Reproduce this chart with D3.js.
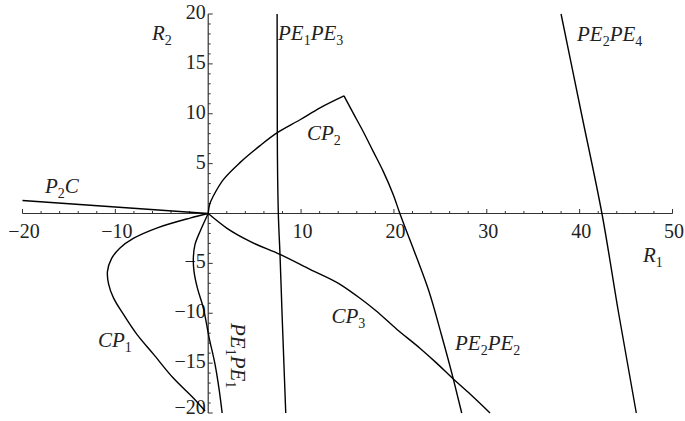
<!DOCTYPE html>
<html>
<head>
<meta charset="utf-8">
<script src="https://cdn.jsdelivr.net/npm/d3@7"></script>
<style>
  html, body { margin: 0; padding: 0; background: #fff; }
  svg { display: block; }
</style>
</head>
<body>
<svg id="chart" width="685" height="421"></svg>
<script>
// Axis extents and tick labels
const xDomain = [-20, 50];
const yDomain = [-20, 20];
const xMajorTicks = [-20, -10, 10, 20, 30, 40, 50];
const yMajorTicks = [-20, -15, -10, -5, 5, 10, 15, 20];

// Boundary curves in the (R1, R2) plane, [R1, R2] pairs
const p2c = [[-20, 1.3], [0, 0]];
const cp2 = [[0, 0], [0.15, 0.9], [0.55, 1.75], [1.63, 3.4], [3.42, 5.1], [5.58, 6.8], [7.44, 8.1], [9.89, 9.4], [12.04, 10.6], [14.62, 11.8]];
const pe2pe2 = [[14.62, 11.8], [15.63, 10.04], [16.7, 8.2], [17.78, 6.2], [18.86, 4.2], [19.93, 1.88], [20.64, 0], [22.2, -3.8], [23.7, -7.6], [25.1, -12.1], [26.4, -16.6], [27.3, -20]];
const pe2pe4 = [[38.0, 20], [40.2, 10], [42.4, 0], [44.2, -10], [46.1, -20]];
const pe1pe3 = [[7.42, 20], [7.44, 8.1], [7.55, 0], [7.73, -4.1], [7.95, -10], [8.35, -20]];
const cp3 = [[0, 0], [1.99, -1.46], [4.5, -2.8], [7.73, -4.1], [10.96, -5.6], [14.2, -7.1], [16.35, -8.5], [18.0, -9.7], [20.3, -11.6], [22.8, -13.5], [24.6, -15.0], [26.4, -16.6], [28.2, -18.1], [30.35, -20]];
const cp1 = [[0, 0], [-1.96, -0.46], [-5.55, -1.46], [-8.07, -2.5], [-9.5, -3.46], [-10.4, -4.5], [-10.85, -5.8], [-10.72, -7.1], [-10.2, -8.46], [-9.14, -10.1], [-7.7, -12.1], [-5.9, -14.1], [-3.76, -16.5], [-1.6, -18.5], [-0.34, -19.8]];
const pe1pe1 = [[0, 0], [-0.88, -1.8], [-1.42, -3.1], [-1.6, -4.46], [-1.53, -5.8], [-1.17, -7.46], [-0.53, -9.46], [0.1, -12.46], [0.73, -15.1], [1.2, -17.8], [1.5, -20]];

const serif = '"Liberation Serif", "Times New Roman", "DejaVu Serif", serif';
const svg = d3.select("#chart");
const x = d3.scaleLinear().domain(xDomain).range([22.5, 672.5]);
const y = d3.scaleLinear().domain(yDomain).range([413, 14]);

const axisColor = "#333";
const fmt = d => d < 0 ? "\u2212" + Math.abs(d) : String(d);

// x axis through R2 = 0, ticks pointing up
const xMinor = d3.range(-20, 51, 2).filter(v => v % 10 !== 0);
const gx = svg.append("g").attr("transform", `translate(0,${y(0)})`);
gx.append("line").attr("x1", x(-20)).attr("x2", x(50)).attr("stroke", axisColor).attr("stroke-width", 1.2);
gx.selectAll("line.mj").data(xMajorTicks).join("line").attr("class", "mj")
  .attr("x1", d => x(d)).attr("x2", d => x(d)).attr("y1", 0).attr("y2", -4.5)
  .attr("stroke", axisColor).attr("stroke-width", 1);
gx.selectAll("line.mn").data(xMinor).join("line").attr("class", "mn")
  .attr("x1", d => x(d)).attr("x2", d => x(d)).attr("y1", 0).attr("y2", -2.5)
  .attr("stroke", axisColor).attr("stroke-width", 1);
gx.selectAll("text").data(xMajorTicks).join("text")
  .attr("x", d => x(d) + 1.5).attr("y", 24.5).attr("text-anchor", "middle")
  .attr("font-family", serif).attr("font-size", 20).attr("fill", "#222")
  .text(fmt);

// y axis through R1 = 0, ticks pointing right
const yMinor = d3.range(-20, 21, 1).filter(v => v % 5 !== 0);
const gy = svg.append("g").attr("transform", `translate(${x(0)},0)`);
gy.append("line").attr("y1", y(-20)).attr("y2", y(20)).attr("stroke", axisColor).attr("stroke-width", 1.2);
gy.selectAll("line.mj").data(yMajorTicks).join("line").attr("class", "mj")
  .attr("y1", d => y(d)).attr("y2", d => y(d)).attr("x1", 0).attr("x2", 4.5)
  .attr("stroke", axisColor).attr("stroke-width", 1);
gy.selectAll("line.mn").data(yMinor).join("line").attr("class", "mn")
  .attr("y1", d => y(d)).attr("y2", d => y(d)).attr("x1", 0).attr("x2", 2.5)
  .attr("stroke", axisColor).attr("stroke-width", 1);
gy.selectAll("text").data(yMajorTicks).join("text")
  .attr("x", -2.5).attr("y", d => Math.min(y(d) + 5, 414)).attr("text-anchor", "end")
  .attr("font-family", serif).attr("font-size", 20).attr("fill", "#222")
  .text(fmt);

// curves
const alongX = d3.line().x(d => x(d[0])).y(d => y(d[1])).curve(d3.curveMonotoneX);
const alongY = d3.line().x(d => x(d[0])).y(d => y(d[1])).curve(d3.curveMonotoneY);
const round = d3.line().x(d => x(d[0])).y(d => y(d[1])).curve(d3.curveCatmullRom.alpha(0.5));
const straight = d3.line().x(d => x(d[0])).y(d => y(d[1]));
const curves = [
  { pts: p2c, gen: straight },
  { pts: cp2, gen: round },
  { pts: pe2pe2, gen: alongY },
  { pts: pe2pe4, gen: alongY },
  { pts: pe1pe3, gen: alongY },
  { pts: cp3, gen: alongX },
  { pts: cp1, gen: round },
  { pts: pe1pe1, gen: round }
];
svg.append("g").selectAll("path").data(curves).join("path")
  .attr("d", c => c.gen(c.pts))
  .attr("fill", "none").attr("stroke", "#000").attr("stroke-width", 1.4)
  .attr("stroke-linejoin", "round");

// region and axis labels built from main / subscript parts
function label(parts, px, py, rotate) {
  const t = svg.append("text")
    .attr("font-family", serif).attr("font-size", 21).attr("font-style", "italic").attr("fill", "#222");
  if (rotate) t.attr("transform", `translate(${px},${py}) rotate(90)`);
  else t.attr("x", px).attr("y", py);
  let low = false;
  parts.forEach(p => {
    if (p.sub) {
      t.append("tspan").attr("font-style", "normal").attr("font-size", 14).attr("dy", 5).text(p.sub);
      low = true;
    } else {
      const s = t.append("tspan").text(p.t);
      if (low) { s.attr("dy", -5); low = false; }
    }
  });
}
label([{ t: "R" }, { sub: "2" }], 152, 40);
label([{ t: "P" }, { sub: "2" }, { t: "C" }], 45, 192.5);
label([{ t: "PE" }, { sub: "1" }, { t: "PE" }, { sub: "3" }], 278, 40);
label([{ t: "CP" }, { sub: "2" }], 307, 140);
label([{ t: "PE" }, { sub: "2" }, { t: "PE" }, { sub: "4" }], 577, 40.5);
label([{ t: "R" }, { sub: "1" }], 643, 261.5);
label([{ t: "CP" }, { sub: "1" }], 98, 346.5);
label([{ t: "CP" }, { sub: "3" }], 331.5, 323);
label([{ t: "PE" }, { sub: "2" }, { t: "PE" }, { sub: "2" }], 455, 349.5);
label([{ t: "PE" }, { sub: "1" }, { t: "PE" }, { sub: "1" }], 231, 323, true);
</script>
</body>
</html>
